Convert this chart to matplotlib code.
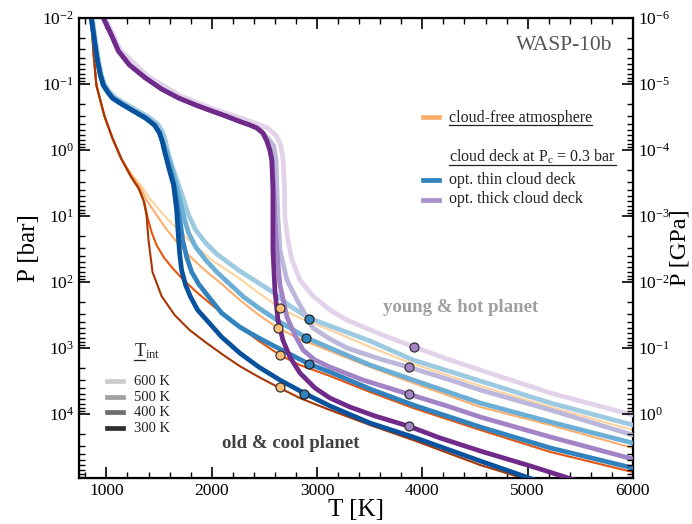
import numpy as np
import matplotlib
matplotlib.use("Agg")
import matplotlib.pyplot as plt
from matplotlib.lines import Line2D
from matplotlib.ticker import LogLocator, MultipleLocator, NullFormatter

plt.rcParams["font.family"] = "serif"
plt.rcParams["font.serif"] = ["Liberation Serif", "DejaVu Serif"]
plt.rcParams["mathtext.fontset"] = "custom"
plt.rcParams["mathtext.rm"] = "Liberation Serif"
plt.rcParams["mathtext.it"] = "Liberation Serif:italic"
plt.rcParams["mathtext.bf"] = "Liberation Serif:bold"
plt.rcParams["axes.unicode_minus"] = False

# ---------------- data (T in K, P in bar) ----------------

# cloud-free atmosphere
t_free_top = [857, 876, 905, 981, 1057, 1143]
p_free_top = [0.01, 0.0316, 0.104, 0.305, 0.658, 1.37]

t_free_300 = t_free_top + [1229, 1305, 1352, 1381, 1400, 1438, 1524, 1648, 1790, 1952, 2124, 2267, 2448, 2648, 2838, 3124, 3505, 3914, 4552, 5100]
p_free_300 = p_free_top + [2.48, 3.77, 5.72, 9.66, 23.1, 70.5, 163, 316, 533, 840, 1320, 1880, 2750, 4040, 5730, 8700, 14700, 24800, 59300, 110000]
t_free_400 = t_free_top + [1238, 1314, 1362, 1390, 1429, 1476, 1543, 1619, 1733, 1867, 2038, 2267, 2448, 2648, 2838, 3124, 3505, 3914, 4552, 5219, 6000]
p_free_400 = p_free_top + [2.56, 4.04, 6.35, 10.4, 17.5, 27.5, 41.8, 59.3, 93.3, 147, 248, 481, 783, 1277, 1810, 2656, 4645, 8111, 17470, 37650, 75700]
t_free_500 = t_free_top + [1248, 1324, 1381, 1457, 1562, 1676, 1790, 1933, 2095, 2267, 2448, 2629, 2838, 3124, 3505, 3914, 4552, 5219, 6000]
p_free_500 = p_free_top + [2.48, 3.77, 5.72, 8.7, 15.2, 25.6, 40.4, 65.8, 107, 187, 316, 498, 731, 1110, 1941, 3390, 7834, 14680, 32740]
t_free_600 = t_free_top + [1248, 1333, 1400, 1486, 1590, 1781, 2000, 2257, 2448, 2648, 2838, 3124, 3505, 3914, 4552, 5219, 6000]
p_free_600 = p_free_top + [2.48, 3.51, 5.15, 7.56, 11.5, 23.1, 46.4, 87, 147, 248, 351, 533, 966, 1747, 3764, 7834, 17470]

# optically thin cloud deck
t_thin_top = [857, 886, 914, 943, 971, 1010, 1057, 1143, 1257, 1371, 1457, 1505, 1533]
p_thin_top = [0.01, 0.0216, 0.0433, 0.073, 0.104, 0.13, 0.163, 0.2, 0.256, 0.327, 0.418, 0.552, 0.756]

t_thin_300 = t_thin_top + [1552, 1590, 1638, 1667, 1686, 1695, 1714, 1752, 1800, 1867, 1952, 2095, 2267, 2448, 2648, 2876, 3124, 3505, 3914, 4552, 5124]
p_thin_300 = p_thin_top + [1.035, 1.81, 3.39, 8.11, 23.1, 36.4, 65.8, 111, 169, 266, 377, 681, 1191, 1941, 3053, 4806, 7565, 13690, 22300, 51530, 107000]
t_thin_400 = t_thin_top + [1552, 1600, 1648, 1676, 1705, 1724, 1762, 1810, 1876, 1943, 2095, 2267, 2448, 2648, 2924, 3124, 3505, 3914, 4552, 5219, 6000]
p_thin_400 = p_thin_top + [1.035, 1.87, 3.64, 7.31, 13.7, 23.1, 41.8, 70.5, 107, 147, 295, 481, 705, 1035, 1747, 2310, 4180, 7306, 15740, 32740, 65800]
t_thin_500 = t_thin_top + [1571, 1619, 1667, 1714, 1743, 1781, 1848, 1943, 2048, 2162, 2305, 2448, 2648, 2905, 3124, 3505, 3914, 4552, 5219, 6000]
p_thin_500 = p_thin_top + [1.035, 1.87, 3.64, 7.31, 11.5, 18.1, 29.5, 46.4, 70.5, 104, 169, 248, 404, 705, 1000, 1810, 3053, 6813, 13220, 27490]
t_thin_600 = [867, 895, 924, 952, 981, 1019, 1076, 1171, 1286, 1400, 1486, 1533, 1562, 1581, 1629, 1686, 1733, 1781, 1848, 1943, 2048,
              2162, 2267, 2448, 2581, 2743, 2924, 3124, 3505, 3914, 4552, 5219, 6000]
p_thin_600 = [0.01, 0.0216, 0.0433, 0.073, 0.1, 0.126, 0.157, 0.196, 0.248, 0.316, 0.404, 0.533, 0.731, 1.035, 1.87, 3.39, 5.72, 9.66,
              16.3, 25.6, 37.6, 51.5, 68.1, 104, 142, 231, 351, 464, 783, 1520, 3162, 6813, 14680]

# optically thick cloud deck
t_thick_top = [971, 1048, 1114, 1219, 1371, 1524, 1686, 1848, 2000, 2133, 2257, 2362, 2429, 2486]
p_thick_top = [0.01, 0.0181, 0.0316, 0.0515, 0.081, 0.119, 0.163, 0.208, 0.256, 0.305, 0.364, 0.418, 0.464, 0.552]

t_thick_300 = t_thick_top + [2524, 2552, 2571, 2581, 2581, 2581, 2600, 2629, 2676, 2743, 2838, 2981, 3124, 3314, 3552, 3867, 4171, 4552, 5029, 5505]
p_thick_300 = p_thick_top + [0.731, 1.0, 1.42, 4.04, 10.7, 32.7, 132, 377, 757, 1369, 2391, 4036, 5727, 7834, 10720, 15200, 23100, 36360, 61350, 107000]
t_thick_400 = t_thick_top + [2524, 2552, 2571, 2590, 2600, 2619, 2648, 2714, 2790, 2867, 2981, 3124, 3438, 3867, 4238, 4552, 5219, 6000]
p_thick_400 = p_thick_top + [0.731, 1.0, 1.42, 4.04, 10.7, 32.7, 111, 339, 635, 1072, 1520, 1941, 3053, 4977, 7565, 11100, 22300, 48100]
t_thick_500 = t_thick_top + [2533, 2590, 2610, 2619, 2629, 2648, 2714, 2810, 2962, 3124, 3286, 3600, 3867, 4238, 4552, 5219, 6000]
p_thick_500 = p_thick_top + [0.658, 0.87, 1.42, 4.04, 10.7, 32.7, 93.3, 187, 498, 731, 1000, 1468, 1941, 2949, 4329, 8697, 20800]
t_thick_600 = [990, 1133, 1390, 1705, 2019, 2276, 2438, 2543, 2610, 2652, 2676, 2690, 2695, 2724, 2762, 2838, 2962, 3124, 3286, 3600,
               3924, 4238, 4552, 5219, 6000]
p_thick_600 = [0.01, 0.0305, 0.0757, 0.152, 0.239, 0.327, 0.404, 0.48, 0.6, 0.82, 1.3, 3.2, 10.7, 23.1, 46.4, 93.3, 163, 266,
               377, 614, 966, 1468, 2154, 4806, 10350]

# circles on the profiles (600, 500, 400, 300 K)
t_mark_free = [2650, 2630, 2650, 2650]
p_mark_free = [248, 498, 1280, 3900]
t_mark_thin = [2920, 2900, 2920, 2880]
p_mark_thin = [364, 705, 1750, 4980]
t_mark_thick = [3920, 3870, 3870, 3870]
p_mark_thick = [966, 1940, 4980, 15200]

tint_labels = ["600 K", "500 K", "400 K", "300 K"]

# ---------------- styles ----------------
c_free = ["#fdd49e", "#fdae6b", "#e6550d", "#a63603"]
c_thin = ["#9ecae1", "#6baed6", "#3182bd", "#08519c"]
c_thick = ["#e2d2ea", "#bcb8dc", "#a283c6", "#6f2a8a"]
c_gray = ["#cccccc", "#a0a0a0", "#6e6e6e", "#2e2e2e"]

W, H = 692, 524
fig = plt.figure(figsize=(W / 100, H / 100), dpi=100)
ax = fig.add_axes([79 / W, 1 - 478 / H, 554 / W, 460 / H])


def fpos(x, y):
    # pixel position -> figure fraction
    return x / W, 1 - y / H


curves_free = [(t_free_600, p_free_600), (t_free_500, p_free_500), (t_free_400, p_free_400), (t_free_300, p_free_300)]
curves_thin = [(t_thin_600, p_thin_600), (t_thin_500, p_thin_500), (t_thin_400, p_thin_400), (t_thin_300, p_thin_300)]
curves_thick = [(t_thick_600, p_thick_600), (t_thick_500, p_thick_500), (t_thick_400, p_thick_400), (t_thick_300, p_thick_300)]

for (t, p), c in zip(curves_free, c_free):
    ax.plot(t, p, color=c, lw=1.5, solid_joinstyle="round", solid_capstyle="round", zorder=2)
for (t, p), c in zip(curves_thin, c_thin):
    ax.plot(t, p, color=c, lw=3.4, solid_joinstyle="round", solid_capstyle="round", zorder=3)
for (t, p), c in zip(curves_thick, c_thick):
    ax.plot(t, p, color=c, lw=3.4, solid_joinstyle="round", solid_capstyle="round", zorder=4)

ax.plot(t_mark_free, p_mark_free, "o", ms=6.5, mfc="#fdbe7a", mec="#333333", mew=0.9, zorder=6)
ax.plot(t_mark_thin, p_mark_thin, "o", ms=6.5, mfc="#3182bd", mec="#222222", mew=0.9, zorder=6)
ax.plot(t_mark_thick, p_mark_thick, "o", ms=6.5, mfc="#a283c6", mec="#333333", mew=0.9, zorder=6)

# axes
p_top, p_bot = 1e-2, 9.3e4
ax.set_yscale("log")
ax.set_xlim(740, 6000)
ax.set_ylim(p_bot, p_top)
ax.xaxis.set_major_locator(MultipleLocator(1000))
ax.xaxis.set_minor_locator(MultipleLocator(200))
ax.yaxis.set_major_locator(LogLocator(base=10, numticks=20))
ax.yaxis.set_minor_locator(LogLocator(base=10, subs=np.arange(2, 10), numticks=20))
ax.yaxis.set_minor_formatter(NullFormatter())
ax.tick_params(which="both", direction="in", top=True, right=False, labelsize=12.5)
ax.tick_params(which="major", length=8, width=1.2)
ax.tick_params(which="minor", length=4, width=1.0)
for s in ax.spines.values():
    s.set_linewidth(1.6)
ax.set_xlabel("T [K]", fontsize=18, labelpad=0)
ax.set_ylabel("P [bar]", fontsize=18, labelpad=2)

ax2 = ax.twinx()
ax2.set_yscale("log")
ax2.set_ylim(p_bot / 1e4, p_top / 1e4)
ax2.yaxis.set_major_locator(LogLocator(base=10, numticks=20))
ax2.yaxis.set_minor_locator(LogLocator(base=10, subs=np.arange(2, 10), numticks=20))
ax2.yaxis.set_minor_formatter(NullFormatter())
ax2.tick_params(which="both", direction="in", labelsize=12.5)
ax2.tick_params(which="major", length=8, width=1.2)
ax2.tick_params(which="minor", length=4, width=1.0)
ax2.set_ylabel("P [GPa]", fontsize=17.5, labelpad=-0.5)

# annotations
fig.text(*fpos(612, 46), "WASP-10b", fontsize=15.5, color="#555555", ha="right", va="center")
fig.text(*fpos(461, 308), "young & hot planet", fontsize=13.5, fontweight="bold", color="#a0a0a0", ha="center", va="center")
fig.text(*fpos(291, 443), "old & cool planet", fontsize=13.5, fontweight="bold", color="#404040", ha="center", va="center")

fig.canvas.draw()
renderer = fig.canvas.get_renderer()


def underline(txt, y_px, width_txt=None):
    bb = (width_txt or txt).get_window_extent(renderer=renderer)
    x0, x1 = bb.x0 / W, bb.x1 / W
    y = 1 - y_px / H
    fig.add_artist(Line2D([x0, x1], [y, y], transform=fig.transFigure, color="#222222", lw=0.9))


def handle(x0, x1, y, color):
    fig.add_artist(Line2D([x0 / W, x1 / W], [1 - y / H] * 2, transform=fig.transFigure, color=color, lw=3.4))


# top-right legend
t1 = fig.text(*fpos(449, 121.5), "cloud-free atmosphere", fontsize=11.5, color="#222222", va="baseline")
handle(423, 439, 117, "#fdae6b")
t2 = fig.text(*fpos(449, 162), r"cloud deck at P$_\mathrm{c}$ = 0.3 bar", fontsize=11.5, color="#222222", va="baseline")
fig.text(*fpos(449, 184), "opt. thin cloud deck", fontsize=11.5, color="#222222", va="baseline")
handle(423, 439, 180, "#3182bd")
fig.text(*fpos(449, 203.5), "opt. thick cloud deck", fontsize=11.5, color="#222222", va="baseline")
handle(423, 439, 200, "#a98fcb")
fig.canvas.draw()
underline(t1, 124.5)
underline(t2, 164.5)

# T_int legend
t3 = fig.text(*fpos(134, 356.5), r"T$_\mathrm{int}$", fontsize=13, color="#222222", va="baseline")
tt = fig.text(*fpos(134, 356.5), "T", fontsize=13, color="none", va="baseline")
fig.canvas.draw()
underline(t3, 359.5, tt)
tt.remove()
for i, (lab, c) in enumerate(zip(tint_labels, c_gray)):
    yy = 381 + i * 15.5
    handle(107, 123, yy, c)
    fig.text(*fpos(134, yy + 4.3), lab, fontsize=10.5, color="#222222", va="baseline")

fig.savefig("out.png", dpi=100)
